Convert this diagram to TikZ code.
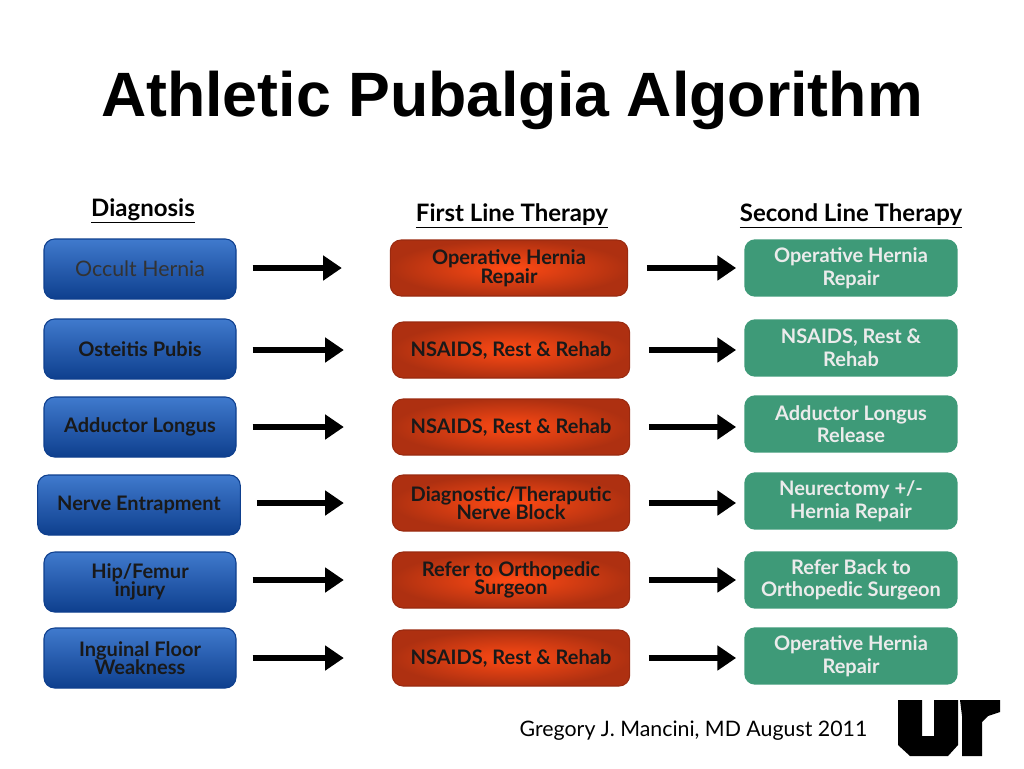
\documentclass[tikz,border=0pt]{standalone}
\usepackage{fontspec}
\setmainfont{Liberation Sans}
\newfontfamily\gill{Lato}
\usetikzlibrary{arrows.meta}
\definecolor{bluebox}{HTML}{1E62C4}
\definecolor{blueedge}{HTML}{0E3F8E}
\definecolor{redc}{HTML}{FF4A14}
\definecolor{rede}{HTML}{9A2A10}
\definecolor{greenbox}{HTML}{3E9A78}
\begin{document}
\begin{tikzpicture}[x=0.75pt,y=-0.75pt,
  bbox/.style={rounded corners=8pt,draw=blueedge,line width=0.8pt,top color=bluebox!85!white,bottom color=blueedge,minimum height=45pt,align=center,font=\gill\bfseries\fontsize{15}{14}\selectfont,text=black!90,inner sep=2pt},
  rbox/.style={rounded corners=8pt,draw=rede,line width=0.8pt,inner color=redc,outer color=rede!80!redc,minimum width=178pt,minimum height=42pt,align=center,font=\gill\bfseries\fontsize{15}{14}\selectfont,text=black!90,inner sep=2pt},
  gbox/.style={rounded corners=8pt,fill=greenbox,minimum width=160pt,minimum height=43pt,align=center,font=\gill\bfseries\fontsize{15}{17}\selectfont,text=white!92!black,inner sep=2pt},
  arr/.style={-{Triangle[length=14pt,width=18pt]},line width=4.5pt,black},
  hdr/.style={font=\gill\bfseries\fontsize{18}{18}\selectfont}]
\useasboundingbox (0,0) rectangle (1024,768);
\fill[white] (0,0) rectangle (1024,768);
\node (title) at (512,100) {\bfseries\fontsize{47}{47}\selectfont Athletic Pubalgia Algorithm};
\node[hdr] (h1) at (143,211) {\underline{Diagnosis}};
\node[hdr] (h2) at (512,216) {\underline{First Line Therapy}};
\node[hdr] (h3) at (851,216) {\underline{Second Line Therapy}};
% blue
\node[bbox,minimum width=144pt,font=\gill\fontsize{16}{16}\selectfont,text=black!80] (b1) at (140,269) {Occult Hernia};
\node[bbox,minimum width=144pt] (b2) at (140,349) {Osteitis Pubis};
\node[bbox,minimum width=144pt] (b3) at (140,427) {Adductor Longus};
\node[bbox,minimum width=152pt] (b4) at (139,505) {Nerve Entrapment};
\node[bbox,minimum width=144pt] (b5) at (140,582) {Hip/Femur\\injury};
\node[bbox,minimum width=144pt] (b6) at (140,658) {Inguinal Floor\\Weakness};
% red
\node[rbox] (r1) at (509,268) {Operative Hernia\\Repair};
\node[rbox] (r2) at (511,350) {NSAIDS, Rest \& Rehab};
\node[rbox] (r3) at (511,427) {NSAIDS, Rest \& Rehab};
\node[rbox] (r4) at (511,503) {Diagnostic/Theraputic\\Nerve Block};
\node[rbox] (r5) at (511,580) {Refer to Orthopedic\\Surgeon};
\node[rbox] (r6) at (511,658) {NSAIDS, Rest \& Rehab};
% green
\node[gbox] (g1) at (851,268) {Operative Hernia\\Repair};
\node[gbox] (g2) at (851,348) {NSAIDS, Rest \&\\Rehab};
\node[gbox] (g3) at (851,424) {Adductor Longus\\Release};
\node[gbox] (g4) at (851,501) {Neurectomy +/-\\Hernia Repair};
\node[gbox] (g5) at (851,580) {Refer Back to\\Orthopedic Surgeon};
\node[gbox] (g6) at (851,656) {Operative Hernia\\Repair};
% arrows
\foreach \i in {1,...,6}{
  \draw[arr] ([xshift=12pt]b\i.east|-r\i.center) -- ([xshift=-36pt]r\i.west|-r\i.center);
  \draw[arr] ([xshift=14pt]r\i.east) -- ([xshift=-6pt]g\i.west|-r\i.center);
}
\node[font=\gill\fontsize{16}{16}\selectfont,anchor=east] (auth) at (872,731) {Gregory J. Mancini, MD August 2011};
% UT logo
\fill[black] (898,700) -- (922,700) -- (922,736) -- (934,736) -- (934,700) -- (958,700) -- (958,745) -- (948,756) -- (910,756) -- (898,745) -- cycle;
\fill[black] (960,700) -- (1000,700) -- (1000,712) -- (988,716) -- (982,722) -- (982,756) -- (962,756) -- (962,716) -- cycle;
\end{tikzpicture}
\end{document}
